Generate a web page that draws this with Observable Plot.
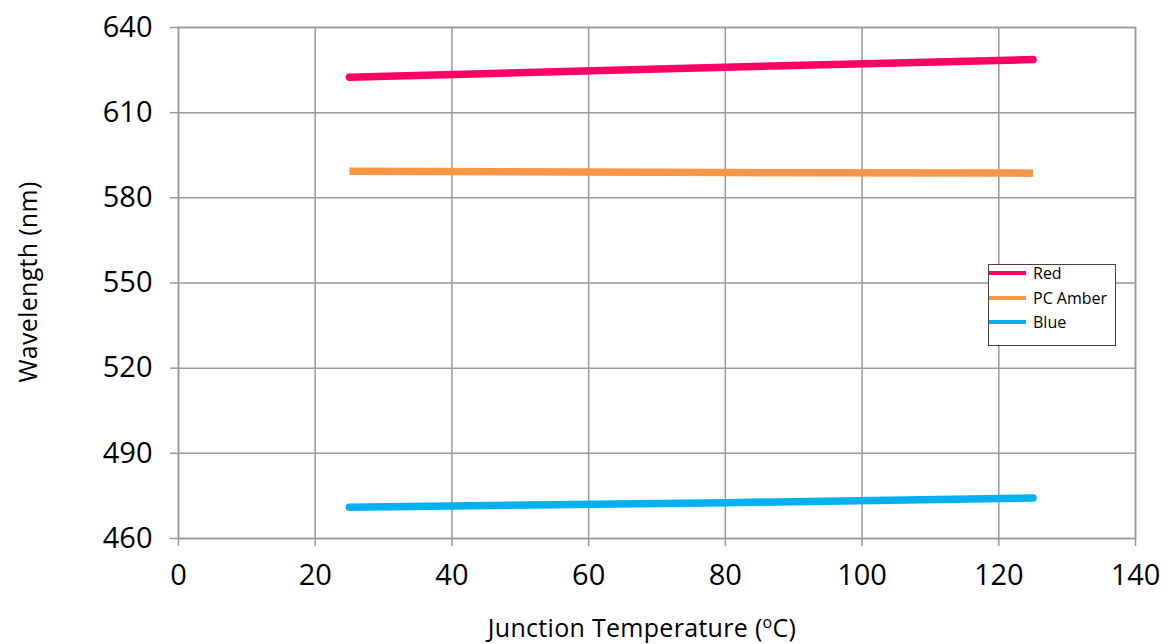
<!DOCTYPE html>
<html>
<head>
<meta charset="utf-8">
<script src="https://cdn.jsdelivr.net/npm/d3@7"></script>
<script src="https://cdn.jsdelivr.net/npm/@observablehq/plot@0.6"></script>
<style>
  html, body { margin: 0; padding: 0; background: #fff; }
  #wrap { position: relative; width: 1170px; height: 644px; font-family: "Open Sans", sans-serif; }
  #ytitle { position: absolute; left: 27px; top: 282px; transform: translate(-50%, -50%) rotate(-90deg); font-size: 25px; letter-spacing: 0.3px; white-space: nowrap; color: #000; }
  #xtitle { position: absolute; left: 642px; top: 627px; transform: translate(-50%, -50%); font-size: 25px; letter-spacing: 0.3px; white-space: nowrap; color: #000; }
  #xtitle sup { font-size: 16px; vertical-align: 9px; line-height: 0; }
  #legend { position: absolute; left: 988px; top: 264px; width: 128px; height: 82px; border: 1px solid #444; background: #fff; box-sizing: border-box; font-size: 16px; }
  .item { position: absolute; left: 0; height: 18px; display: flex; align-items: center; }
  .swatch { width: 37px; height: 4px; margin-right: 7px; }
</style>
</head>
<body>
<div id="wrap"></div>
<script>
const temps = [25, 80, 125];
const redValues = [622.5, 626.0, 628.7];
const amberValues = [589.4, 588.9, 588.7];
const blueValues = [471.0, 472.6, 474.3];
const seriesNames = ["Red", "PC Amber", "Blue"];
const seriesColors = ["#ff0066", "#f79646", "#00b0f0"];
const xTicks = [0, 20, 40, 60, 80, 100, 120, 140];
const yTicks = [460, 490, 520, 550, 580, 610, 640];

const toRows = (vals, name) => temps.map((t, i) => ({temp: t, value: vals[i], series: name}));
const red = toRows(redValues, seriesNames[0]);
const amber = toRows(amberValues, seriesNames[1]);
const blue = toRows(blueValues, seriesNames[2]);

const gray = "#999";
const chart = Plot.plot({
  width: 1170,
  height: 644,
  marginLeft: 178,
  marginRight: 35,
  marginTop: 27,
  marginBottom: 106,
  style: {fontFamily: "'Open Sans', sans-serif", background: "#fff", color: "#000"},
  x: {domain: [0, 140]},
  y: {domain: [460, 640]},
  marks: [
    Plot.gridX(xTicks, {stroke: gray, strokeOpacity: 1, strokeWidth: 1.5}),
    Plot.gridY(yTicks, {stroke: gray, strokeOpacity: 1, strokeWidth: 1.5}),
    Plot.frame({stroke: gray, strokeWidth: 1.5}),
    Plot.axisX(xTicks, {tickSize: 8, tickPadding: 18, fontSize: 29, stroke: gray, strokeWidth: 1.5, fill: "#000", label: null, tickFormat: d => String(d)}),
    Plot.axisY(yTicks, {tickSize: 8, tickPadding: 18, fontSize: 29, stroke: gray, strokeWidth: 1.5, fill: "#000", label: null, tickFormat: d => String(d)}),
    Plot.line(amber, {x: "temp", y: "value", stroke: seriesColors[1], strokeWidth: 7.5, strokeLinecap: "butt"}),
    Plot.line(red, {x: "temp", y: "value", stroke: seriesColors[0], strokeWidth: 7.5, strokeLinecap: "round"}),
    Plot.line(blue, {x: "temp", y: "value", stroke: seriesColors[2], strokeWidth: 7.5, strokeLinecap: "round"})
  ]
});

const wrap = document.getElementById("wrap");
wrap.appendChild(chart);

const yt = document.createElement("div");
yt.id = "ytitle";
yt.textContent = "Wavelength (nm)";
wrap.appendChild(yt);

const xt = document.createElement("div");
xt.id = "xtitle";
xt.innerHTML = "Junction Temperature (<sup>o</sup>C)";
wrap.appendChild(xt);

const lg = document.createElement("div");
lg.id = "legend";
const tops = [-1, 24, 48];
seriesNames.forEach((n, i) => {
  const it = document.createElement("div");
  it.className = "item";
  it.style.top = tops[i] + "px";
  const sw = document.createElement("div");
  sw.className = "swatch";
  sw.style.background = seriesColors[i];
  it.appendChild(sw);
  const tx = document.createElement("span");
  tx.textContent = n;
  it.appendChild(tx);
  lg.appendChild(it);
});
wrap.appendChild(lg);
</script>
</body>
</html>
